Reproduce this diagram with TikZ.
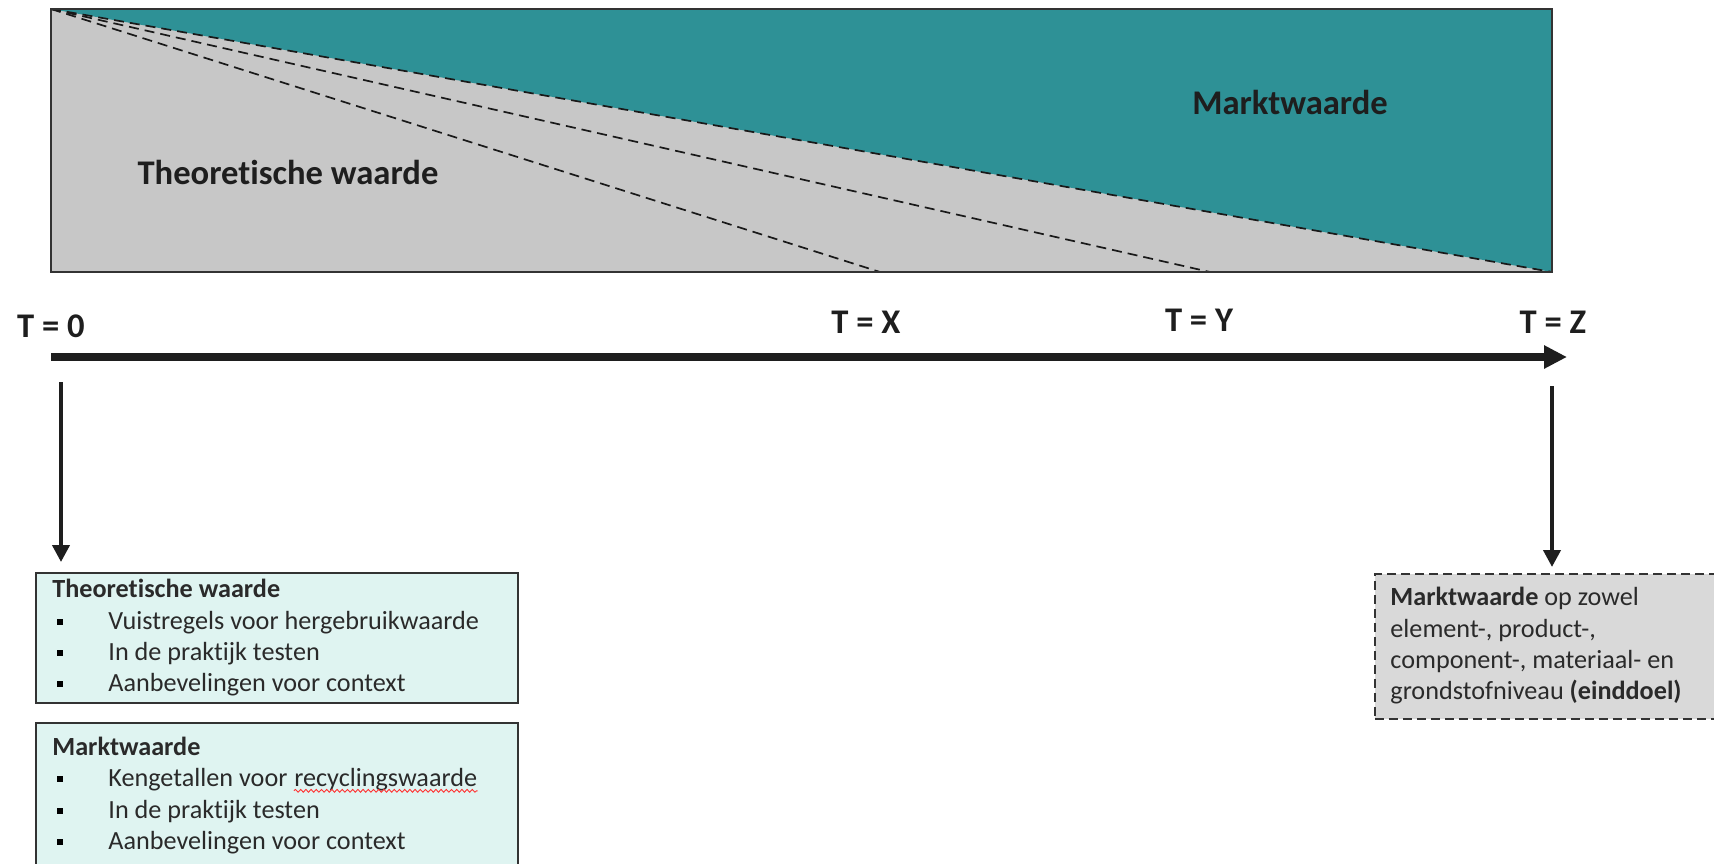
\documentclass[tikz,border=0pt]{standalone}
\usepackage{fontspec}
\setmainfont[Ligatures={NoCommon}]{Carlito}
\usetikzlibrary{arrows.meta,decorations.pathmorphing}

\definecolor{marketteal}{HTML}{2E9196}
\definecolor{theorygray}{HTML}{C7C7C7}
\definecolor{mintfill}{HTML}{DFF4F1}
\definecolor{goalfill}{HTML}{D9D9D9}
\definecolor{inkdark}{HTML}{1E1E1E}
\definecolor{inkbody}{HTML}{2A2A2A}

\tikzset{
  bigtext/.style={font=\fontsize{17.3}{20}\selectfont\bfseries, text=inkdark, inner sep=0pt},
  tlabel/.style={font=\fontsize{17.3}{20}\selectfont\bfseries, text=inkdark, inner sep=0pt},
  slope/.style={draw=black!90, line width=0.85pt, dash pattern=on 5pt off 3pt},
  frame/.style={draw=black!80, line width=0.8pt},
  timeline/.style={draw=inkdark, line width=4pt, -{Triangle[length=11.5pt,width=11pt]}},
  drop/.style={draw=inkdark, line width=2pt, -{Triangle[length=8.5pt,width=8.5pt]}},
  infobox/.style={draw=black!80, line width=0.75pt, fill=mintfill, anchor=north west,
    minimum width=241pt, inner sep=0pt},
  goalbox/.style={draw=black!80, line width=0.75pt, dash pattern=on 4.5pt off 2.5pt,
    fill=goalfill, anchor=north west, minimum width=200pt, minimum height=72.5pt, inner sep=0pt},
  line/.style={anchor=base west, inner sep=0pt, font=\fontsize{13.1}{16}\selectfont, text=inkbody},
  bul/.style={rectangle, fill=black, minimum size=3.3pt, inner sep=0pt},
}

\begin{document}
\begin{tikzpicture}[x=0.5pt, y=-0.5pt]
\useasboundingbox (0,0) rectangle (1714,863);
\clip (0,0) rectangle (1714,863);

% value band: theoretical value below, market value above the slope
\coordinate (nw) at (51,9);
\coordinate (ne) at (1552,9);
\coordinate (se) at (1552,272);
\coordinate (xend) at (880,272);
\coordinate (yend) at (1210,272);
\fill[theorygray] (nw) rectangle (se);
\fill[marketteal] (nw) -- (ne) -- (se) -- cycle;
\draw[slope] (nw) -- (xend);
\draw[slope] (nw) -- (yend);
\draw[slope] (nw) -- (se);
\draw[frame] (nw) rectangle (se);

\node[bigtext] (theolabel) at (288,172) {Theoretische waarde};
\node[bigtext] (marklabel) at (1290,102) {Marktwaarde};

% time axis
\node[tlabel] (t0) at (51,326) {T = 0};
\node[tlabel] (tx) at (866,322) {T = X};
\node[tlabel] (ty) at (1199,320) {T = Y};
\node[tlabel] (tz) at (1553,322) {T = Z};
\coordinate (tstart) at (51,357);
\coordinate (tend) at (1567,357);
\draw[timeline] (tstart) -- (tend);

% boxes below the axis
\node[infobox, minimum height=65pt] (theobox) at (35,572) {};
\node[infobox, minimum height=85pt] (markbox) at (35,722) {};
\node[goalbox] (goalbox) at (1374,573) {};

\coordinate (dropl) at (61,382);
\coordinate (dropr) at (1552,386);
\draw[drop, shorten >=5pt] (dropl) -- (dropl |- theobox.north);
\draw[drop, shorten >=3pt] (dropr) -- (dropr |- goalbox.north);

% theoretical value list
\node[line] (th0) at (52,597) {\bfseries Theoretische waarde};
\node[line] (th1) at (108,629) {Vuistregels voor hergebruikwaarde};
\node[line] (th2) at (108,660) {In de praktijk testen};
\node[line] (th3) at (108,691) {Aanbevelingen voor context};
\node[bul] at (60,622) {};
\node[bul] at (60,653) {};
\node[bul] at (60,684) {};

% market value list
\node[line] (mk0) at (52,755) {\bfseries Marktwaarde};
\node[line] (mk1) at (108,786) {Kengetallen voor};
\node[line, anchor=base west] (mk1b) at ([xshift=3pt]mk1.base east) {recyclingswaarde};
\node[line] (mk2) at (108,818) {In de praktijk testen};
\node[line] (mk3) at (108,849) {Aanbevelingen voor context};
\node[bul] at (60,779) {};
\node[bul] at (60,811) {};
\node[bul] at (60,842) {};
\draw[red!80, line width=0.45pt, decorate,
  decoration={snake, amplitude=0.7pt, segment length=2.6pt}]
  ([yshift=-2.4pt]mk1b.base west) -- ([yshift=-2.4pt]mk1b.base east);

% end goal
\node[line] (g0) at (1390,605) {\bfseries Marktwaarde\mdseries{} op zowel};
\node[line] (g1) at (1390,637) {element-, product-,};
\node[line] (g2) at (1390,668) {component-, materiaal- en};
\node[line] (g3) at (1390,699) {grondstofniveau \textbf{(einddoel)}};
\end{tikzpicture}
\end{document}
